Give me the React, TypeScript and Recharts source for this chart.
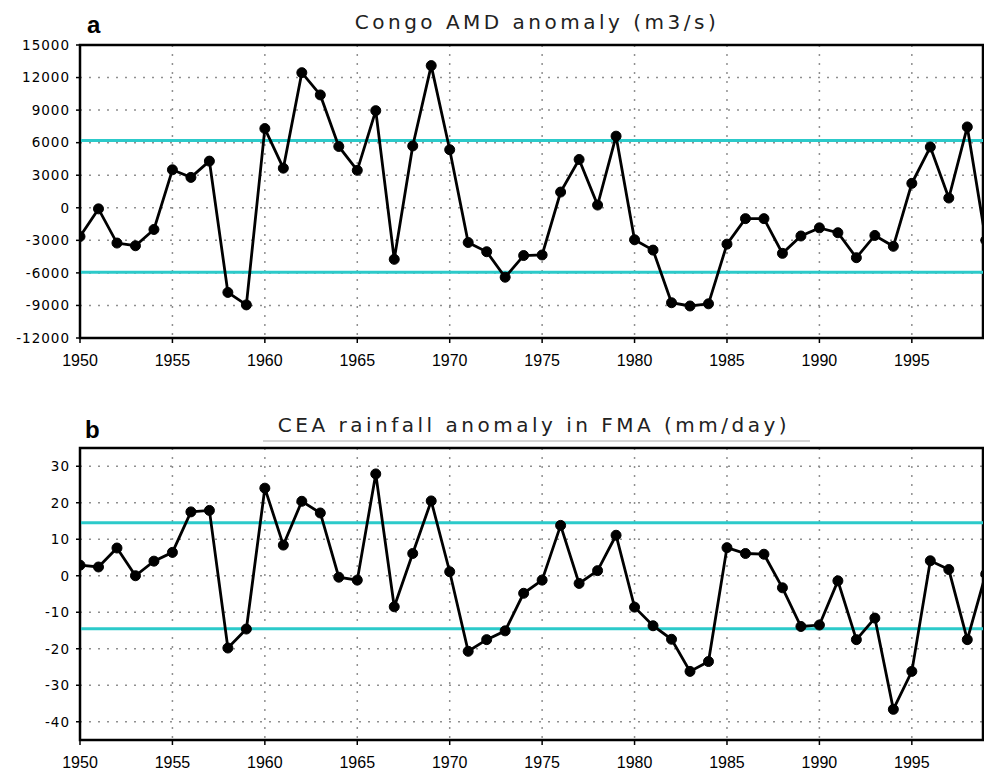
import React from 'react';
import { LineChart, Line, XAxis, YAxis, CartesianGrid, ReferenceLine, ReferenceArea } from 'recharts';

const years = [
  1950, 1951, 1952, 1953, 1954, 1955, 1956, 1957, 1958, 1959,
  1960, 1961, 1962, 1963, 1964, 1965, 1966, 1967, 1968, 1969,
  1970, 1971, 1972, 1973, 1974, 1975, 1976, 1977, 1978, 1979,
  1980, 1981, 1982, 1983, 1984, 1985, 1986, 1987, 1988, 1989,
  1990, 1991, 1992, 1993, 1994, 1995, 1996, 1997, 1998, 1999,
];

const congoAmd = [
  -2650, -100, -3250, -3500, -2000, 3500, 2800, 4300, -7800, -8950,
  7300, 3650, 12450, 10400, 5650, 3450, 8950, -4750, 5700, 13100,
  5350, -3200, -4050, -6400, -4400, -4350, 1450, 4450, 250, 6600,
  -2950, -3900, -8750, -9050, -8850, -3350, -1000, -1000, -4200, -2600,
  -1850, -2300, -4600, -2550, -3550, 2250, 5600, 900, 7450, -3000,
];

const ceaRain = [
  2.9, 2.4, 7.6, 0.0, 4.0, 6.4, 17.5, 17.9, -19.8, -14.6,
  24.0, 8.4, 20.4, 17.2, -0.4, -1.2, 27.9, -8.5, 6.1, 20.5,
  1.1, -20.7, -17.5, -15.1, -4.8, -1.2, 13.8, -2.1, 1.4, 11.1,
  -8.6, -13.7, -17.4, -26.2, -23.5, 7.7, 6.1, 5.9, -3.3, -13.9,
  -13.5, -1.4, -17.5, -11.6, -36.6, -26.2, 4.1, 1.7, -17.5, 0.5,
];

const xTicks = [1950, 1955, 1960, 1965, 1970, 1975, 1980, 1985, 1990, 1995];
const amdTicks = [-12000, -9000, -6000, -3000, 0, 3000, 6000, 9000, 12000, 15000];
const rainTicks = [-40, -30, -20, -10, 0, 10, 20, 30];
const amdThresholds = [6200, -5950];
const rainThresholds = [14.5, -14.5];

const titleA = 'Congo AMD anomaly (m3/s)';
const titleB = 'CEA rainfall anomaly in FMA (mm/day)';

const data = years.map((year, i) => ({ year, amd: congoAmd[i], rain: ceaRain[i] }));

const X_MIN = 1950;
const X_MAX = 1998.85;
const CYAN = '#2ccaca';

const yTickStyle = { fill: '#000', fontSize: 13.5, fontFamily: 'DejaVu Sans', letterSpacing: 1 };
const xTickStyle = { fill: '#000', fontSize: 16, fontFamily: 'Liberation Sans' };

function Panel(props: {
  dataKey: string;
  yTicks: number[];
  yDomain: [number, number];
  thresholds: number[];
  height: number;
  marginTop: number;
  xAxisHeight: number;
}) {
  const { dataKey, yTicks, yDomain, thresholds, height, marginTop, xAxisHeight } = props;
  return (
    <LineChart
      width={984}
      height={height}
      data={data}
      margin={{ top: marginTop, right: 1, bottom: 0, left: 0 }}
    >
      <CartesianGrid stroke="#8f8f8f" strokeWidth={1.5} strokeDasharray="2 7" />
      <XAxis
        dataKey="year"
        type="number"
        domain={[X_MIN, X_MAX]}
        allowDataOverflow
        ticks={xTicks}
        interval={0}
        height={xAxisHeight}
        tickSize={5}
        tickMargin={12}
        axisLine={{ stroke: '#000', strokeWidth: 2 }}
        tickLine={{ stroke: '#000', strokeWidth: 1.5 }}
        tick={xTickStyle}
      />
      <YAxis
        type="number"
        domain={yDomain}
        allowDataOverflow
        ticks={yTicks}
        interval={0}
        width={80}
        tickSize={4}
        tickMargin={6}
        axisLine={{ stroke: '#000', strokeWidth: 2 }}
        tickLine={{ stroke: '#000', strokeWidth: 1.5 }}
        tick={yTickStyle}
      />
      {thresholds.map((t) => (
        <ReferenceLine key={t} y={t} stroke={CYAN} strokeWidth={3} />
      ))}
      <Line
        type="linear"
        dataKey={dataKey}
        stroke="#000"
        strokeWidth={2.8}
        dot={{ r: 5, fill: '#000', stroke: '#000', strokeWidth: 1 }}
        isAnimationActive={false}
      />
      <ReferenceArea
        x1={X_MIN}
        x2={X_MAX}
        y1={yDomain[0]}
        y2={yDomain[1]}
        fill="none"
        fillOpacity={0}
        stroke="#000"
        strokeWidth={2.5}
        ifOverflow="visible"
      />
    </LineChart>
  );
}

export default function App() {
  return (
    <div style={{ position: 'absolute', left: 0, top: 0, width: 984, height: 770, background: '#fff', overflow: 'hidden' }}>
      <div style={{ position: 'absolute', left: 0, top: 0 }}>
        <Panel
          dataKey="amd"
          yTicks={amdTicks}
          yDomain={[-12000, 15000]}
          thresholds={amdThresholds}
          height={378}
          marginTop={45}
          xAxisHeight={40}
        />
      </div>
      <div style={{ position: 'absolute', left: 0, top: 378 }}>
        <Panel
          dataKey="rain"
          yTicks={rainTicks}
          yDomain={[-45, 35]}
          thresholds={rainThresholds}
          height={392}
          marginTop={70}
          xAxisHeight={30}
        />
      </div>
      <svg width={984} height={770} style={{ position: 'absolute', left: 0, top: 0, pointerEvents: 'none' }}>
        <text x={87} y={33} fontFamily="Liberation Sans" fontWeight="bold" fontSize={24} fill="#000">a</text>
        <text x={537} y={29} textAnchor="middle" fontFamily="DejaVu Sans" fontSize={20} letterSpacing={3.5} fill="#222">{titleA}</text>
        <text x={85} y={438} fontFamily="Liberation Sans" fontWeight="bold" fontSize={24} fill="#000">b</text>
        <line x1={263} x2={810} y1={441} y2={441} stroke="#d4d4d4" strokeWidth={2} />
        <text x={534} y={432} textAnchor="middle" fontFamily="DejaVu Sans" fontSize={20} letterSpacing={3.5} fill="#222">{titleB}</text>
      </svg>
    </div>
  );
}
